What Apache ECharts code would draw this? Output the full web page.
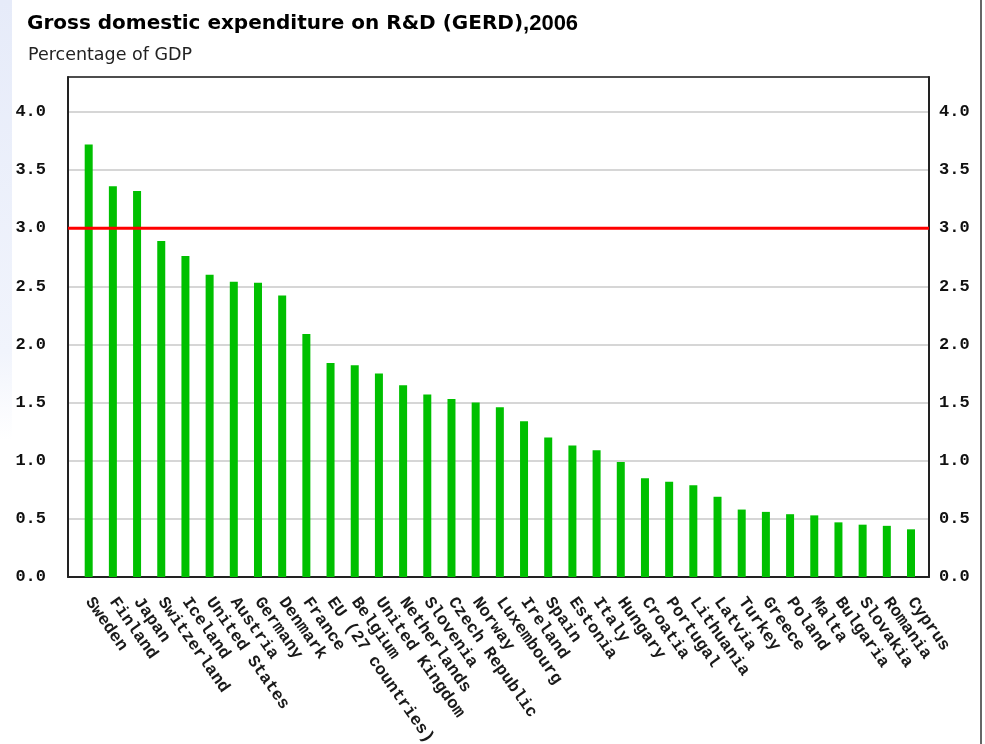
<!DOCTYPE html>
<html>
<head>
<meta charset="utf-8">
<script src="https://cdn.jsdelivr.net/npm/echarts@6/dist/echarts.min.js"></script>
<style>
html,body{margin:0;padding:0;background:#fff;}
#chart{width:985px;height:744px;}
</style>
</head>
<body>
<div id="chart"></div>
<script>
const categories = ['Sweden','Finland','Japan','Switzerland','Iceland','United States','Austria','Germany','Denmark','France','EU (27 countries)','Belgium','United Kingdom','Netherlands','Slovenia','Czech Republic','Norway','Luxembourg','Ireland','Spain','Estonia','Italy','Hungary','Croatia','Portugal','Lithuania','Latvia','Turkey','Greece','Poland','Malta','Bulgaria','Slovakia','Romania','Cyprus'];
const gerd = [3.72,3.36,3.32,2.89,2.76,2.60,2.54,2.53,2.42,2.09,1.84,1.82,1.75,1.65,1.57,1.53,1.50,1.46,1.34,1.20,1.13,1.09,0.99,0.85,0.82,0.79,0.69,0.58,0.56,0.54,0.53,0.47,0.45,0.44,0.41];
const targetLine = [3.0, 3.0];
const yMin = 0, yMax = 4.3, yStep = 0.5;

const chart = echarts.init(document.getElementById('chart'));
const monoLabel = {fontFamily:'Liberation Mono', fontWeight:'bold', fontSize:17, color:'#111'};
chart.setOption({
  animation:false,
  backgroundColor:'#fff',
  graphic:[
    {type:'rect', shape:{x:0,y:0,width:12,height:440}, z:-10,
     style:{fill:new echarts.graphic.LinearGradient(0,0,0,1,[{offset:0,color:'#e6ebf9'},{offset:0.8,color:'#f1f4fc'},{offset:1,color:'#ffffff'}])}},
    {type:'line', shape:{x1:981,y1:0,x2:981,y2:744}, style:{stroke:'#333',lineWidth:1.5}, z:10}
  ],
  title:[
    {text:'{a|Gross domestic expenditure on R&D (GERD)}{b|,2006}', left:22, top:8,
     textStyle:{rich:{a:{fontFamily:'DejaVu Sans',fontWeight:'bold',fontSize:20,color:'#000'},
                      b:{fontFamily:'Liberation Sans',fontWeight:'bold',fontSize:22,color:'#000'}}}},
    {text:'Percentage of GDP', left:23, top:41,
     textStyle:{fontFamily:'DejaVu Sans',fontWeight:'normal',fontSize:17.5,color:'#222'}}
  ],
  grid:[
    {left:68, right:56, top:77, bottom:167, outerBoundsMode:'none', containLabel:false},
    {left:76.6, right:61.9, top:77, bottom:167, outerBoundsMode:'none', containLabel:false}
  ],
  xAxis:[
    {gridIndex:0, type:'category', data:['',''], boundaryGap:false, position:'bottom',
     axisLine:{show:true, onZero:false, lineStyle:{color:'#222', width:2}}, axisTick:{show:false}, axisLabel:{show:false}, splitLine:{show:false}, z:1},
    {gridIndex:0, type:'category', data:['',''], boundaryGap:false, position:'top',
     axisLine:{show:true, onZero:false, lineStyle:{color:'#222', width:1.5}}, axisTick:{show:false}, axisLabel:{show:false}, splitLine:{show:false}, z:1},
    {gridIndex:1, type:'category', data:categories, boundaryGap:true,
     axisLine:{show:false, onZero:false}, axisTick:{show:false}, splitLine:{show:false},
     axisLabel:{interval:0, rotate:-55, margin:22, fontFamily:'Liberation Mono', fontWeight:'bold', fontSize:17, color:'#1a1a1a'}}
  ],
  yAxis:[
    {gridIndex:0, type:'value', min:yMin, max:yMax, interval:yStep, position:'left',
     axisLine:{show:true, onZero:false, lineStyle:{color:'#222', width:2}}, axisTick:{show:false},
     splitLine:{show:true, lineStyle:{color:'#c8c8c8', width:1.5}},
     axisLabel:Object.assign({margin:22, showMaxLabel:false, formatter:v=>v.toFixed(1)}, monoLabel), z:0},
    {gridIndex:0, type:'value', min:yMin, max:yMax, interval:yStep, position:'right',
     axisLine:{show:true, onZero:false, lineStyle:{color:'#222', width:2}}, axisTick:{show:false},
     splitLine:{show:false},
     axisLabel:Object.assign({margin:10, showMaxLabel:false, formatter:v=>v.toFixed(1)}, monoLabel), z:1},
    {gridIndex:1, type:'value', min:yMin, max:yMax, interval:yStep, show:false}
  ],
  series:[
    {type:'bar', xAxisIndex:2, yAxisIndex:2, data:gerd, barWidth:8,
     itemStyle:{color:'#00c000'}, z:6},
    {type:'line', xAxisIndex:0, yAxisIndex:0, data:targetLine, symbol:'none',
     lineStyle:{color:'#ff0000', width:3}, z:10}
  ]
});
</script>
</body>
</html>
